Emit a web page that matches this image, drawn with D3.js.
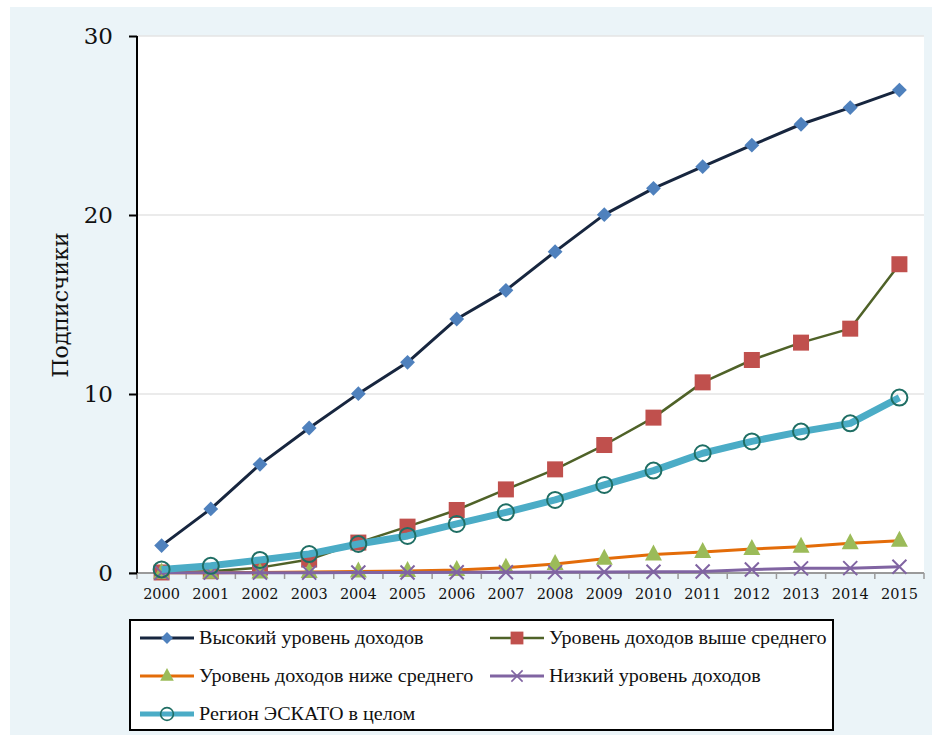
<!DOCTYPE html>
<html>
<head>
<meta charset="utf-8">
<script src="https://cdn.jsdelivr.net/npm/d3@7"></script>
<style>
  body { margin: 0; background: #fff; }
  svg { display: block; }
</style>
</head>
<body>
<div id="chart"></div>
<script>
var years = ["2000","2001","2002","2003","2004","2005","2006","2007","2008","2009","2010","2011","2012","2013","2014","2015"];
var highIncome = [1.53, 3.58, 6.07, 8.1, 10.02, 11.77, 14.19, 15.79, 17.95, 20.02, 21.49, 22.7, 23.9, 25.07, 26.0, 26.98];
var upperMiddle = [0.03, 0.1, 0.3, 0.75, 1.7, 2.59, 3.52, 4.67, 5.79, 7.15, 8.68, 10.65, 11.9, 12.87, 13.65, 17.25];
var lowerMiddle = [0.02, 0.02, 0.03, 0.05, 0.08, 0.11, 0.17, 0.3, 0.5, 0.8, 1.03, 1.17, 1.34, 1.47, 1.66, 1.8];
var lowIncome = [0.02, 0.02, 0.02, 0.02, 0.03, 0.03, 0.04, 0.04, 0.05, 0.06, 0.07, 0.08, 0.2, 0.26, 0.27, 0.35];
var escapRegion = [0.2, 0.4, 0.73, 1.06, 1.62, 2.07, 2.74, 3.39, 4.08, 4.92, 5.72, 6.69, 7.35, 7.9, 8.36, 9.8];
var yTicks = [0, 10, 20, 30];
var yTitle = "Подписчики";

var series = [
  { name: "Высокий уровень доходов", values: highIncome, line: "#17263f", lw: 3, marker: "diamond", fill: "#4f81bd", stroke: "none" },
  { name: "Уровень доходов выше среднего", values: upperMiddle, line: "#4f6228", lw: 2.5, marker: "square", fill: "#c0504d", stroke: "none" },
  { name: "Уровень доходов ниже среднего", values: lowerMiddle, line: "#e36c09", lw: 3, marker: "triangle", fill: "#9bbb59", stroke: "none" },
  { name: "Низкий уровень доходов", values: lowIncome, line: "#8064a2", lw: 3, marker: "cross", fill: "none", stroke: "#8064a2" },
  { name: "Регион ЭСКАТО в целом", values: escapRegion, line: "#4bacc6", lw: 7, marker: "circle", fill: "none", stroke: "#1f6e64" }
];

(function () {
  var W = 939, H = 738;
  var svg = d3.select("#chart").append("svg").attr("width", W).attr("height", H);

  // outer panel
  svg.append("rect").attr("x", 10).attr("y", 7).attr("width", 922).attr("height", 728).attr("fill", "#ebf4f8");

  var pl = 137, pr = 924, pt = 36, pb = 573;
  svg.append("rect").attr("x", pl).attr("y", pt).attr("width", pr - pl).attr("height", pb - pt).attr("fill", "#fff");

  var x = d3.scaleBand().domain(years).range([pl, pr]);
  var y = d3.scaleLinear().domain([0, 30]).range([pb, pt]);
  var cx = function (i) { return x(years[i]) + x.bandwidth() / 2; };

  // gridlines
  svg.append("g").selectAll("line").data(yTicks.slice(1)).enter().append("line")
    .attr("x1", pl).attr("x2", pr)
    .attr("y1", function (d) { return y(d); }).attr("y2", function (d) { return y(d); })
    .attr("stroke", "#e4e4e4").attr("stroke-width", 1.5);

  // x axis
  var xAxis = svg.append("g").attr("transform", "translate(0," + pb + ")")
    .call(d3.axisBottom(x).tickSize(0).tickPadding(16));
  xAxis.select(".domain").remove();
  xAxis.selectAll("text").attr("font-family", "DejaVu Serif, serif").attr("font-size", 14.5).attr("fill", "#111");
  svg.append("line").attr("x1", pl - 8).attr("x2", pr).attr("y1", pb).attr("y2", pb)
    .attr("stroke", "#9a9a9a").attr("stroke-width", 2);
  svg.append("g").selectAll("line").data(years.concat(["end"])).enter().append("line")
    .attr("x1", function (d) { return d === "end" ? pr : x(d); })
    .attr("x2", function (d) { return d === "end" ? pr : x(d); })
    .attr("y1", pb).attr("y2", pb + 6)
    .attr("stroke", "#9a9a9a").attr("stroke-width", 1.5);

  // y axis
  var yAxis = svg.append("g").attr("transform", "translate(" + pl + ",0)")
    .call(d3.axisLeft(y).tickValues(yTicks).tickSize(8).tickPadding(16));
  yAxis.select(".domain").attr("stroke", "#000").attr("stroke-width", 2).attr("d", "M0," + pt + "V" + pb);
  yAxis.selectAll(".tick line").attr("stroke", "#000").attr("stroke-width", 2);
  yAxis.selectAll("text").attr("font-family", "DejaVu Serif, serif").attr("font-size", 23).attr("fill", "#111");

  svg.append("text").attr("transform", "translate(68,305) rotate(-90)")
    .attr("text-anchor", "middle").attr("font-family", "DejaVu Serif, serif").attr("font-size", 22)
    .attr("fill", "#111").text(yTitle);

  function drawMarker(g, type, px, py, s) {
    if (type === "diamond") {
      g.append("path").attr("d", d3.symbol().type(d3.symbolSquare).size(110)())
        .attr("transform", "translate(" + px + "," + py + ") rotate(45)").attr("fill", s.fill);
    } else if (type === "square") {
      g.append("rect").attr("x", px - 8).attr("y", py - 8).attr("width", 16).attr("height", 16).attr("fill", s.fill);
    } else if (type === "triangle") {
      g.append("path").attr("d", "M0,-10L8.5,6L-8.5,6Z")
        .attr("transform", "translate(" + px + "," + py + ")").attr("fill", s.fill);
    } else if (type === "cross") {
      g.append("path").attr("d", "M-7,-7L7,7M-7,7L7,-7")
        .attr("transform", "translate(" + px + "," + py + ")").attr("stroke", s.stroke).attr("stroke-width", 2).attr("fill", "none");
    } else if (type === "circle") {
      g.append("circle").attr("cx", px).attr("cy", py).attr("r", 8)
        .attr("fill", "none").attr("stroke", s.stroke).attr("stroke-width", 2);
    }
  }

  var line = d3.line().x(function (d, i) { return cx(i); }).y(function (d) { return y(d); });

  series.forEach(function (s) {
    var g = svg.append("g");
    g.append("path").datum(s.values).attr("d", line)
      .attr("fill", "none").attr("stroke", s.line).attr("stroke-width", s.lw).attr("stroke-linejoin", "round");
    s.values.forEach(function (v, i) { drawMarker(g, s.marker, cx(i), y(v), s); });
  });

  // legend
  var lg = svg.append("g");
  lg.append("rect").attr("x", 130).attr("y", 620).attr("width", 703).attr("height", 110)
    .attr("fill", "#fff").attr("stroke", "#000").attr("stroke-width", 2);
  var legendPos = [[140, 638], [490, 638], [140, 676], [490, 676], [140, 714]];
  series.forEach(function (s, i) {
    var p = legendPos[i];
    lg.append("line").attr("x1", p[0]).attr("x2", p[0] + 54).attr("y1", p[1]).attr("y2", p[1])
      .attr("stroke", s.line).attr("stroke-width", Math.min(s.lw, 5));
    var m = lg.append("g").attr("transform", "translate(" + (p[0] + 27) + "," + p[1] + ") scale(0.8)");
    drawMarker(m, s.marker, 0, 0, s);
    lg.append("text").attr("transform", "translate(" + (p[0] + 59) + "," + (p[1] + 6) + ") scale(1.09,1)")
      .attr("font-family", "Liberation Serif, serif").attr("font-size", 18.5).attr("fill", "#111").text(s.name);
  });
})();
</script>
</body>
</html>
